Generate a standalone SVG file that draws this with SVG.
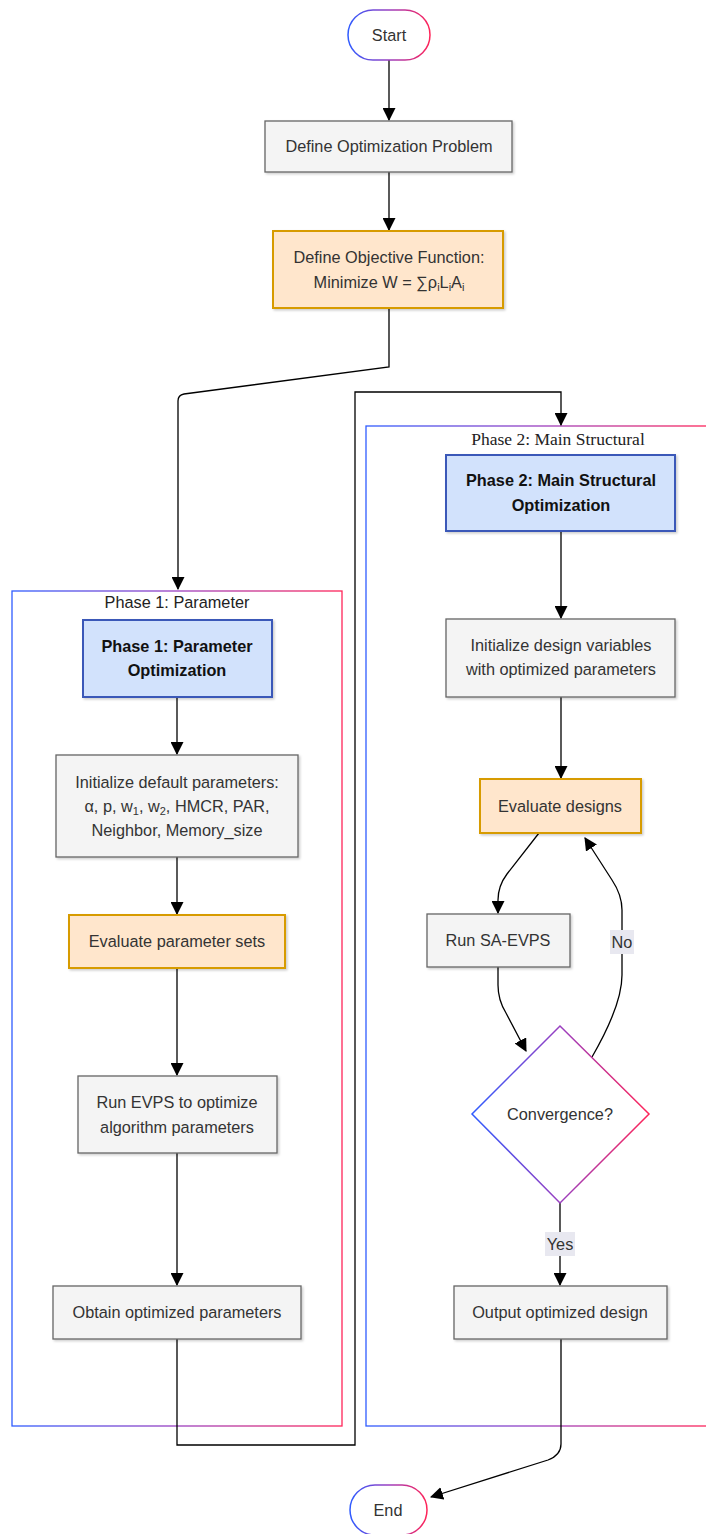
<svg xmlns="http://www.w3.org/2000/svg" width="706" height="1534" viewBox="0 0 706 1534">
<defs>
<linearGradient id="grad" x1="0" y1="0" x2="1" y2="0">
<stop offset="0" stop-color="#2f5cff"/>
<stop offset="0.5" stop-color="#9a3fc0"/>
<stop offset="1" stop-color="#ff2458"/>
</linearGradient>
<marker id="arrow" viewBox="0 0 12 12" refX="11" refY="6" markerWidth="13" markerHeight="13" markerUnits="userSpaceOnUse" orient="auto">
<path d="M0,0 L12,6 L0,12 Z" fill="#000"/>
</marker>
<filter id="sh" x="-10%" y="-10%" width="130%" height="130%">
<feDropShadow dx="1.5" dy="1.5" stdDeviation="1" flood-color="#000" flood-opacity="0.2"/>
</filter>
</defs>
<style>
text{font-family:"Liberation Sans",Arial,sans-serif;font-size:16.3px;fill:#333;text-anchor:middle}
.b{font-weight:bold;fill:#111}
.gray{fill:#f4f4f4;stroke:#666;stroke-width:1.3}
.peach{fill:#ffe6cc;stroke:#d79b00;stroke-width:2}
.blue{fill:#d2e2fc;stroke:#3a58b8;stroke-width:2}
.term{fill:#fff;stroke:url(#grad);stroke-width:1.5}
.grp{fill:none;stroke:url(#grad);stroke-width:1.3}
.edge{fill:none;stroke:#000;stroke-width:1.3}
.lbl{fill:#e8e8f0}
.grptxt{font-size:16.3px;fill:#222}
.serif{font-family:"Liberation Serif","Times New Roman",serif;font-size:17.5px}
</style>

<g id="group-phase1">
<rect class="grp" x="12" y="591" width="330" height="835"/>
<text class="grptxt" x="177" y="608">Phase 1: Parameter</text>
</g>
<g id="group-phase2">
<rect class="grp" x="366" y="426" width="345" height="1000"/>
<text class="grptxt serif" x="558" y="445">Phase 2: Main Structural</text>
</g>

<g id="connectors">
<path class="edge" d="M389,60 V120" marker-end="url(#arrow)"/>
<path class="edge" d="M389,172 V230" marker-end="url(#arrow)"/>
<path class="edge" d="M389,308 V367 L184,394 Q178,395 178,401 V589" marker-end="url(#arrow)"/>
<path class="edge" d="M177,697 V754" marker-end="url(#arrow)"/>
<path class="edge" d="M177,857 V914" marker-end="url(#arrow)"/>
<path class="edge" d="M177,968 V1075" marker-end="url(#arrow)"/>
<path class="edge" d="M177,1153 V1285" marker-end="url(#arrow)"/>
<path class="edge" d="M177,1339 V1445 H355 V392 H561 V425" marker-end="url(#arrow)"/>
<path class="edge" d="M561,531 V618" marker-end="url(#arrow)"/>
<path class="edge" d="M561,697 V778" marker-end="url(#arrow)"/>
<path class="edge" d="M539,833 L507,874 Q498,886 498,900 V913" marker-end="url(#arrow)"/>
<path class="edge" d="M498,967 V985 Q498,1000 506,1013 L526,1051" marker-end="url(#arrow)"/>
<path class="edge" d="M592,1057 Q622,1005 622,975 V910 Q622,895 612,880 L585,838" marker-end="url(#arrow)"/>
<path class="edge" d="M560,1203 V1285" marker-end="url(#arrow)"/>
<path class="edge" d="M561,1339 V1444 Q561,1455 548,1460 L431,1497" marker-end="url(#arrow)"/>
<g id="label-no">
<rect class="lbl" x="610" y="930" width="24" height="24"/>
<text x="622" y="948">No</text>
</g>
<g id="label-yes">
<rect class="lbl" x="545" y="1232" width="30" height="24"/>
<text x="560" y="1250">Yes</text>
</g>
</g>

<g id="start">
<rect class="term" x="348" y="10" width="82" height="50" rx="25"/>
<text x="389" y="41">Start</text>
</g>
<g id="define-problem">
<rect class="gray" x="265" y="121" width="247" height="51" filter="url(#sh)"/>
<text x="389" y="152">Define Optimization Problem</text>
</g>
<g id="objective">
<rect class="peach" x="273" y="231" width="230" height="77" filter="url(#sh)"/>
<text x="389" y="263">Define Objective Function:</text>
<text x="389" y="288">Minimize W = ∑ρ<tspan font-size="11" dy="3">i</tspan><tspan dy="-3">L</tspan><tspan font-size="11" dy="3">i</tspan><tspan dy="-3">A</tspan><tspan font-size="11" dy="3">i</tspan></text>
</g>
<g id="phase1-node">
<rect class="blue" x="83" y="620" width="189" height="77" filter="url(#sh)"/>
<text class="b" x="177" y="652">Phase 1: Parameter</text>
<text class="b" x="177" y="676">Optimization</text>
</g>
<g id="init-default">
<rect class="gray" x="56" y="755" width="242" height="102" filter="url(#sh)"/>
<text x="177" y="788">Initialize default parameters:</text>
<text x="177" y="812">α, p, w<tspan font-size="11" dy="3">1</tspan><tspan dy="-3">, w</tspan><tspan font-size="11" dy="3">2</tspan><tspan dy="-3">, HMCR, PAR,</tspan></text>
<text x="177" y="836">Neighbor, Memory_size</text>
</g>
<g id="eval-params">
<rect class="peach" x="69" y="915" width="216" height="53" filter="url(#sh)"/>
<text x="177" y="947">Evaluate parameter sets</text>
</g>
<g id="run-evps">
<rect class="gray" x="78" y="1076" width="199" height="77" filter="url(#sh)"/>
<text x="177" y="1108">Run EVPS to optimize</text>
<text x="177" y="1133">algorithm parameters</text>
</g>
<g id="obtain">
<rect class="gray" x="53" y="1286" width="248" height="53" filter="url(#sh)"/>
<text x="177" y="1318">Obtain optimized parameters</text>
</g>
<g id="phase2-node">
<rect class="blue" x="446" y="455" width="229" height="76" filter="url(#sh)"/>
<text class="b" x="561" y="486">Phase 2: Main Structural</text>
<text class="b" x="561" y="511">Optimization</text>
</g>
<g id="init-design">
<rect class="gray" x="446" y="619" width="229" height="78" filter="url(#sh)"/>
<text x="561" y="651">Initialize design variables</text>
<text x="561" y="675">with optimized parameters</text>
</g>
<g id="eval-designs">
<rect class="peach" x="480" y="779" width="161" height="54" filter="url(#sh)"/>
<text x="560" y="812">Evaluate designs</text>
</g>
<g id="run-sa-evps">
<rect class="gray" x="427" y="914" width="143" height="53" filter="url(#sh)"/>
<text x="498" y="946">Run SA-EVPS</text>
</g>
<g id="convergence">
<path class="term" d="M560,1026 L649,1114 L560,1203 L472,1114 Z"/>
<text x="560" y="1120">Convergence?</text>
</g>
<g id="output">
<rect class="gray" x="454" y="1286" width="213" height="53" filter="url(#sh)"/>
<text x="560" y="1318">Output optimized design</text>
</g>
<g id="end">
<rect class="term" x="350" y="1485" width="77" height="50" rx="25"/>
<text x="388" y="1516">End</text>
</g>
</svg>
